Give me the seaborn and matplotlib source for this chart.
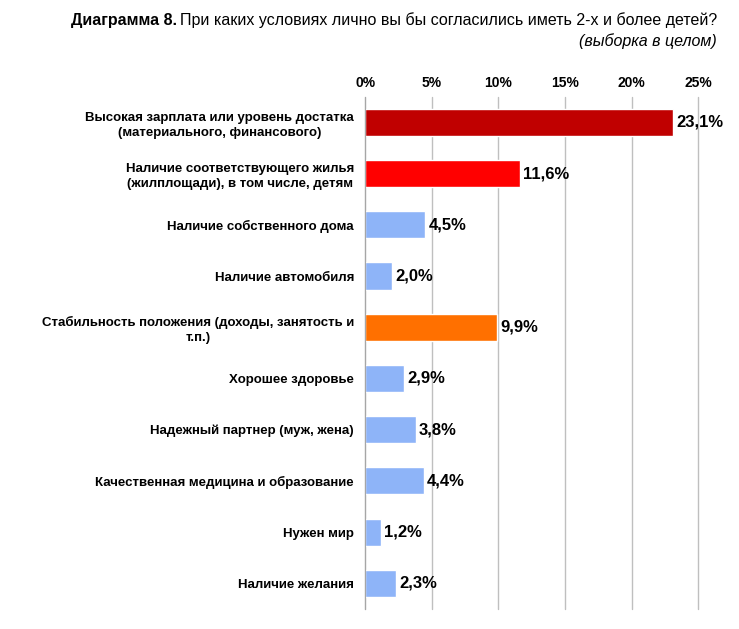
import matplotlib
matplotlib.use("Agg")
import matplotlib.pyplot as plt
import seaborn as sns
import numpy as np
import pandas as pd
from matplotlib.ticker import FixedLocator, PercentFormatter

categories = [
    "Высокая зарплата или уровень достатка\n(материального, финансового)",
    "Наличие соответствующего жилья\n(жилплощади), в том числе, детям",
    "Наличие собственного дома",
    "Наличие автомобиля",
    "Стабильность положения (доходы, занятость и\nт.п.)",
    "Хорошее здоровье",
    "Надежный партнер (муж, жена)",
    "Качественная медицина и образование",
    "Нужен мир",
    "Наличие желания",
]
values = [23.1, 11.6, 4.5, 2.0, 9.9, 2.9, 3.8, 4.4, 1.2, 2.3]
bar_colors = ["#C00000", "#FF0000", "#8EB4F8", "#8EB4F8", "#FF7000",
              "#8EB4F8", "#8EB4F8", "#8EB4F8", "#8EB4F8", "#8EB4F8"]
x_ticks = [0, 5, 10, 15, 20, 25]

df = pd.DataFrame({"cat": categories, "val": values})

sns.set_style("white")
plt.rcParams["font.family"] = ["Liberation Sans", "DejaVu Sans"]
plt.rcParams["text.color"] = "black"
plt.rcParams["xtick.color"] = "black"
plt.rcParams["ytick.color"] = "black"

fig = plt.figure(figsize=(7.39, 6.29), dpi=100)
ax = fig.add_axes([0.494, 0.032, 0.451, 0.814])

sns.barplot(data=df, y="cat", x="val", hue="cat", palette=bar_colors,
            orient="h", width=0.53, legend=False, ax=ax, saturation=1)

for i, v in enumerate(values):
    ax.text(v + 0.25, i, f"{v:.1f}%".replace(".", ","), va="center", ha="left",
            fontsize=12, fontweight="bold", color="black")

ax.set_xlim(0, 25)
ax.set_ylim(len(categories) - 0.5, -0.5)
ax.set_xticks(x_ticks)
ax.xaxis.set_major_formatter(PercentFormatter(decimals=0))
ax.xaxis.tick_top()
ax.tick_params(axis="x", length=0, labelsize=10, pad=5)
for lab in ax.get_xticklabels():
    lab.set_fontweight("bold")
ax.grid(axis="x", color="#BFBFBF", linewidth=1)
for gl in ax.get_xgridlines():
    gl.set_clip_on(False)
ax.set_axisbelow(True)

ax.set_xlabel("")
ax.set_ylabel("")
ax.tick_params(axis="y", which="major", length=0, labelsize=9.5, pad=8)
for lab in ax.get_yticklabels():
    lab.set_fontweight("bold")
    lab.set_multialignment("center")
    lab.set_linespacing(1.35)
ax.yaxis.set_minor_locator(FixedLocator(np.arange(-0.5, len(categories), 1)))
ax.tick_params(axis="y", which="minor", length=5, color="#A6A6A6", width=1)

for s in ["top", "right", "bottom"]:
    ax.spines[s].set_visible(False)
ax.spines["left"].set_color("#A6A6A6")

t2 = fig.text(0.970, 0.968, "При каких условиях лично вы бы согласились иметь 2-х и более детей?",
              ha="right", va="center", fontsize=11.5)
fig.canvas.draw()
bb = t2.get_window_extent()
x_left = fig.transFigure.inverted().transform((bb.x0, bb.y0))[0]
fig.text(x_left - 0.004, 0.968, "Диаграмма 8.", ha="right", va="center",
         fontsize=11.5, fontweight="bold")
fig.text(0.970, 0.935, "(выборка в целом)", ha="right", va="center",
         fontsize=11.5, style="italic")

fig.savefig("out.png", dpi=100)
